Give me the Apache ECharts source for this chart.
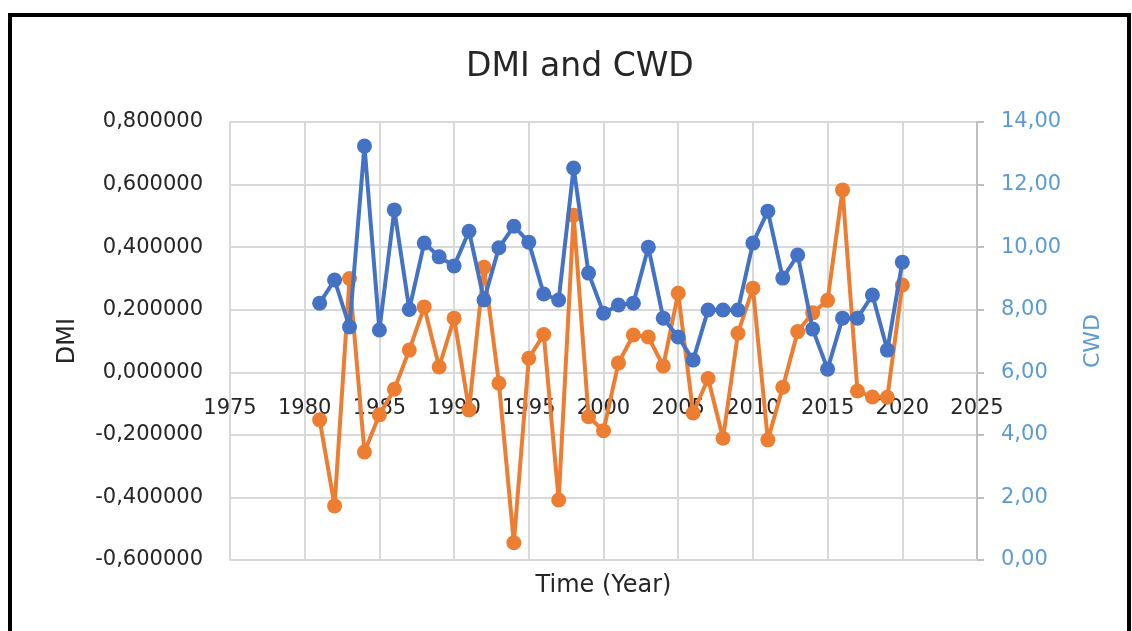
<!DOCTYPE html>
<html>
<head>
<meta charset="utf-8">
<script src="https://cdn.jsdelivr.net/npm/echarts@6/dist/echarts.min.js"></script>
<style>
html,body{margin:0;padding:0;background:#fff;overflow:hidden;}
#chart{width:1132px;height:631px;position:absolute;left:0;top:0;}
#frame{position:absolute;left:8px;top:13px;width:1115px;height:700px;border:4px solid #000;pointer-events:none;}
</style>
</head>
<body>
<div id="chart"></div>
<div id="frame"></div>
<script>
const years = [1981,1982,1983,1984,1985,1986,1987,1988,1989,1990,1991,1992,1993,1994,1995,1996,1997,1998,1999,2000,2001,2002,2003,2004,2005,2006,2007,2008,2009,2010,2011,2012,2013,2014,2015,2016,2017,2018,2019,2020];
const dmi = [-0.152,-0.427,0.300,-0.255,-0.136,-0.054,0.071,0.209,0.017,0.173,-0.120,0.336,-0.035,-0.545,0.045,0.121,-0.408,0.502,-0.142,-0.187,0.030,0.119,0.113,0.020,0.253,-0.130,-0.020,-0.211,0.125,0.269,-0.216,-0.048,0.130,0.190,0.230,0.583,-0.060,-0.079,-0.080,0.279];
const cwd = [8.21,8.95,7.45,13.23,7.35,11.19,8.01,10.13,9.69,9.40,10.51,8.31,9.98,10.67,10.16,8.50,8.31,12.53,9.17,7.89,8.15,8.21,10.00,7.73,7.13,6.39,7.99,7.99,7.99,10.13,11.15,9.01,9.75,7.38,6.10,7.73,7.73,8.47,6.71,9.52];
const xTicks = {min:1975, max:2025, step:5};
const leftTicks = {min:-0.6, max:0.8, step:0.2};
const rightTicks = {min:0, max:14, step:2};

const FONT = '"DejaVu Sans", sans-serif';
const TXT = '#262626';
const GRID = {left:230, right:155, top:122, bottom:71};
const CH = 631;
const plotH = CH - GRID.top - GRID.bottom;
// distance of DMI = 0 from the bottom of the plot (x labels sit on the zero line, as in Excel)
const zeroOffset = plotH * (0 - leftTicks.min) / (leftTicks.max - leftTicks.min);

const chart = echarts.init(document.getElementById('chart'));
chart.setOption({
  animation:false,
  title:{text:'DMI and CWD', left:461, top:46,
         textStyle:{fontFamily:FONT, fontSize:33, fontWeight:'normal', color:TXT}},
  grid:GRID,
  xAxis:[{
    type:'value', position:'bottom', min:xTicks.min, max:xTicks.max, interval:xTicks.step,
    name:'Time (Year)', nameLocation:'middle', nameGap:14,
    nameTextStyle:{fontFamily:FONT, fontSize:24, color:TXT, verticalAlign:'top'},
    axisLine:{show:true, onZero:false, lineStyle:{color:'#d9d9d9', width:2}},
    axisTick:{show:false},
    axisLabel:{show:false},
    splitLine:{show:true, lineStyle:{color:'#d9d9d9', width:2}}
  },{
    type:'value', position:'bottom', offset:-zeroOffset,
    min:xTicks.min, max:xTicks.max, interval:xTicks.step,
    axisLine:{show:true, onZero:false, lineStyle:{color:'#d9d9d9', width:2}},
    axisTick:{show:false},
    axisLabel:{fontFamily:FONT, fontSize:21, color:TXT, margin:26, formatter:v=>String(v)},
    splitLine:{show:false}
  }],
  yAxis:[{
    type:'value', min:leftTicks.min, max:leftTicks.max, interval:leftTicks.step,
    name:'DMI', nameLocation:'middle', nameGap:150, nameRotate:90,
    nameTextStyle:{fontFamily:FONT, fontSize:24, color:TXT},
    axisLine:{show:true, onZero:false, lineStyle:{color:'#d9d9d9', width:2}},
    axisTick:{show:false},
    axisLabel:{fontFamily:FONT, fontSize:21, color:TXT, margin:27, formatter:v=>v.toFixed(6).replace('.',',')},
    splitLine:{show:true, lineStyle:{color:'#d9d9d9', width:2}}
  },{
    type:'value', min:rightTicks.min, max:rightTicks.max, interval:rightTicks.step,
    name:'CWD', nameLocation:'middle', nameGap:105, nameRotate:90,
    nameTextStyle:{fontFamily:FONT, fontSize:22, color:'#5b9bd5'},
    axisLine:{show:true, onZero:false, lineStyle:{color:'#bfbfbf', width:2}},
    axisTick:{show:true, inside:false, length:7, lineStyle:{color:'#bfbfbf', width:2}},
    axisLabel:{fontFamily:FONT, fontSize:21, color:'#5b9bd5', margin:24, formatter:v=>v.toFixed(2).replace('.',',')},
    splitLine:{show:false}
  }],
  series:[{
    name:'DMI', type:'line', xAxisIndex:0, yAxisIndex:0, z:2,
    data:years.map((y,i)=>[y,dmi[i]]),
    symbol:'circle', symbolSize:15,
    itemStyle:{color:'#ed7d31'}, lineStyle:{color:'#ed7d31', width:4}
  },{
    name:'CWD', type:'line', xAxisIndex:0, yAxisIndex:1, z:3,
    data:years.map((y,i)=>[y,cwd[i]]),
    symbol:'circle', symbolSize:15,
    itemStyle:{color:'#4472c4'}, lineStyle:{color:'#4472c4', width:4}
  }]
});
</script>
</body>
</html>
